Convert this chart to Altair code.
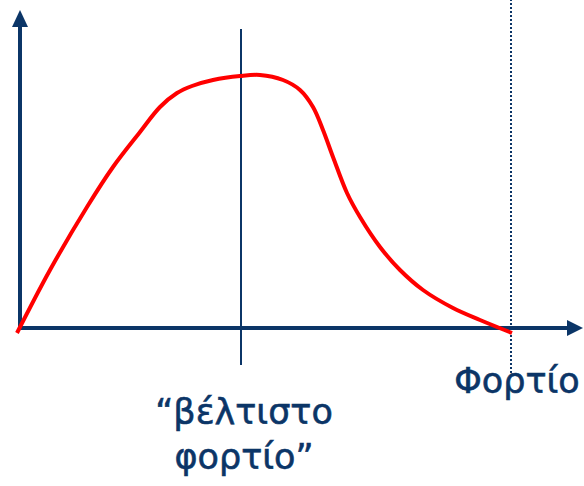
import altair as alt
import pandas as pd

# Throughput as a function of offered load (origin at the axis crossing)
load = [-3, 30, 67, 93, 120, 140, 157, 172, 193, 220, 240, 263, 280, 293, 303, 313,
        327, 340, 360, 380, 403, 433, 460, 492]
throughput = [-5, 58, 121, 161, 196, 221, 235, 242, 248, 252, 253, 248, 238, 221, 198,
              171, 135, 111, 81, 58, 38, 20, 8, -5]

optimum_load = 221      # "optimal load" marker
max_load = 491          # capacity limit (dotted)
optimum_label = ["\u201cβέλτιστο", "φορτίο\u201d"]
axis_label = "Φορτίο"

NAVY = "#0b3567"
RED = "#ff0000"
FONT = "DejaVu Sans"

W, H = 584, 486
xs = alt.Scale(domain=[-20, 564], nice=False, zero=False)
ys = alt.Scale(domain=[-158, 328], nice=False, zero=False)


def seg(x, y, x2, y2):
    return pd.DataFrame({"x": [x], "y": [y], "x2": [x2], "y2": [y2]})


def rule(df, **style):
    return alt.Chart(df).mark_rule(color=NAVY, **style).encode(
        x=alt.X("x:Q", scale=xs, axis=None),
        y=alt.Y("y:Q", scale=ys, axis=None),
        x2="x2:Q",
        y2="y2:Q",
    )


def head(x, y, shape, size):
    return alt.Chart(pd.DataFrame({"x": [x], "y": [y]})).mark_point(
        shape=shape, size=size, filled=True, color=NAVY, opacity=1, strokeWidth=0
    ).encode(
        x=alt.X("x:Q", scale=xs, axis=None),
        y=alt.Y("y:Q", scale=ys, axis=None),
    )


def label(x, y, txt):
    return alt.Chart(pd.DataFrame({"x": [x], "y": [y], "t": [txt]})).mark_text(
        color=NAVY, font=FONT, fontSize=35, stroke=NAVY, strokeWidth=0.6,
        align="center", baseline="alphabetic"
    ).encode(
        x=alt.X("x:Q", scale=xs, axis=None),
        y=alt.Y("y:Q", scale=ys, axis=None),
        text="t:N",
    )


curve = alt.Chart(pd.DataFrame({"load": load, "throughput": throughput})).mark_line(
    color=RED, strokeWidth=4, interpolate="catmull-rom"
).encode(
    x=alt.X("load:Q", scale=xs, axis=None),
    y=alt.Y("throughput:Q", scale=ys, axis=None),
    order="load:Q",
)

x_axis = rule(seg(-2, 0, 552, 0), strokeWidth=4)
y_axis = rule(seg(0, -2, 0, 303), strokeWidth=4)
x_head = head(555, 0, "M1,0L-1,-1L-1,1Z", 256)
y_head = head(0, 309.5, "M0,-1L-0.94,1L0.94,1Z", 289)

opt_line = rule(seg(optimum_load, -37, optimum_load, 299), strokeWidth=2)
max_line = rule(seg(max_load, -45, max_load, 328), strokeWidth=2, strokeDash=[2, 2])

opt_text1 = label(optimum_load + 3, -96, optimum_label[0])
opt_text2 = label(optimum_load + 3, -141, optimum_label[1])
axis_text = label(497, -65, axis_label)

chart = alt.layer(
    max_line, opt_line, x_axis, y_axis, x_head, y_head, curve,
    opt_text1, opt_text2, axis_text,
).properties(
    width=W, height=H, padding=0, autosize=alt.AutoSizeParams(type="none"),
    background="white",
).configure_view(stroke=None)

chart.save("out.html", embed_options={"renderer": "svg", "actions": False})
